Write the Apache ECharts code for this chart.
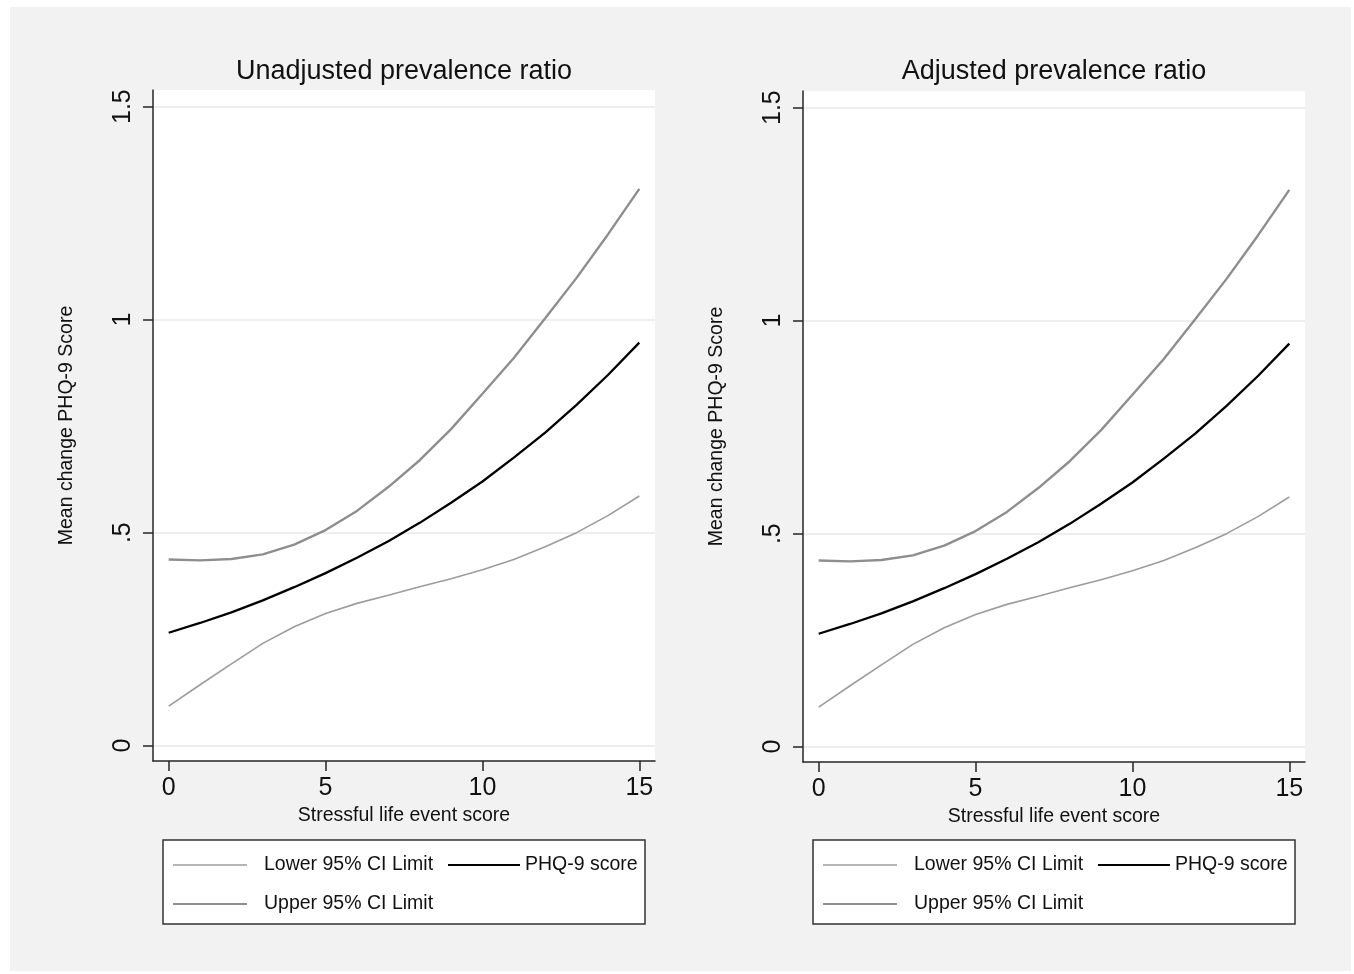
<!DOCTYPE html>
<html>
<head>
<meta charset="utf-8">
<script src="https://cdn.jsdelivr.net/npm/echarts@6/dist/echarts.min.js"></script>
<style>html,body{margin:0;padding:0;background:#fff}#c{width:1354px;height:974px}</style>
</head>
<body>
<div id="c"></div>
<script>
// ---- data ----
const xValues = [0,1,2,3,4,5,6,7,8,9,10,11,12,13,14,15];
const lowerUnadj = [0.093,0.143,0.192,0.240,0.279,0.310,0.334,0.353,0.373,0.392,0.413,0.437,0.467,0.500,0.540,0.586];
const upperUnadj = [0.437,0.435,0.438,0.449,0.472,0.506,0.551,0.607,0.670,0.743,0.826,0.910,1.003,1.098,1.200,1.307];
const phqUnadj   = [0.265,0.288,0.313,0.341,0.372,0.405,0.441,0.480,0.523,0.570,0.620,0.676,0.735,0.800,0.870,0.946];
const lowerAdj = [0.093,0.143,0.192,0.240,0.279,0.310,0.334,0.353,0.373,0.392,0.413,0.437,0.467,0.500,0.540,0.586];
const upperAdj = [0.437,0.435,0.438,0.449,0.472,0.506,0.551,0.607,0.670,0.743,0.826,0.910,1.003,1.098,1.200,1.307];
const phqAdj   = [0.265,0.288,0.313,0.341,0.372,0.405,0.441,0.480,0.523,0.570,0.620,0.676,0.735,0.800,0.870,0.946];
const xTicks = [0,5,10,15];
const yTicks = [0,0.5,1,1.5];
const yTickLabels = ['0','.5','1','1.5'];
const panelTitles = ['Unadjusted prevalence ratio','Adjusted prevalence ratio'];
const xName = 'Stressful life event score';
const yName = 'Mean change PHQ-9 Score';
const seriesNames = ['Lower 95% CI Limit','Upper 95% CI Limit','PHQ-9 score'];

// ---- layout / style ----
const FONT = 'Liberation Sans, Arial, Helvetica, sans-serif';
const panels = [
  {left:153, top:90, lower:lowerUnadj, upper:upperUnadj, phq:phqUnadj, title:panelTitles[0]},
  {left:803, top:91, lower:lowerAdj, upper:upperAdj, phq:phqAdj, title:panelTitles[1]}
];
const GW = 502, GH = 671;
const axisCol = '#262626';
const styles = [
  {color:'#9c9c9c', width:1.6},
  {color:'#8e8e8e', width:2.4},
  {color:'#000000', width:2.3}
];

const toPairs = arr => xValues.map((x,i)=>[x, arr[i]]);

const grids = [], xAxes = [], yAxes = [], series = [], titles = [], legends = [], graphics = [];

graphics.push({type:'rect', z:-10, shape:{x:10,y:7,width:1341,height:964}, style:{fill:'#f2f2f2'}, silent:true});

panels.forEach((p, gi) => {
  grids.push({left:p.left, top:p.top, width:GW, height:GH, show:true, backgroundColor:'#ffffff', borderWidth:0});
  xAxes.push({
    type:'value', gridIndex:gi, min:-0.5, max:15.5,
    name:xName, nameLocation:'middle', nameGap:44,
    nameTextStyle:{fontFamily:FONT, fontSize:19.5, color:'#111'},
    axisLine:{show:true, onZero:false, lineStyle:{color:axisCol, width:1.5}},
    axisTick:{show:true, length:10, customValues:xTicks, lineStyle:{color:axisCol, width:1.5}},
    axisLabel:{customValues:xTicks, margin:15, fontFamily:FONT, fontSize:25, color:'#111'},
    splitLine:{show:false}
  });
  yAxes.push({
    type:'value', gridIndex:gi, min:-0.036, max:1.539,
    name:yName, nameLocation:'middle', nameGap:76, nameRotate:90,
    nameTextStyle:{fontFamily:FONT, fontSize:19.5, color:'#111'},
    axisLine:{show:true, onZero:false, lineStyle:{color:axisCol, width:1.5}},
    axisTick:{show:true, length:10, customValues:yTicks, lineStyle:{color:axisCol, width:1.5}},
    axisLabel:{customValues:yTicks, rotate:90, margin:17, fontFamily:FONT, fontSize:25, color:'#111',
      formatter: v => { const i = yTicks.indexOf(v); return i >= 0 ? yTickLabels[i] : ''; }},
    splitLine:{show:true, lineStyle:{color:'#e9e9e9', width:1.5}}
  });
  [p.lower, p.upper, p.phq].forEach((arr, si) => {
    series.push({
      type:'line', name:seriesNames[si], xAxisIndex:gi, yAxisIndex:gi,
      data: toPairs(arr), showSymbol:false, symbol:'none', smooth:false,
      lineStyle:{color:styles[si].color, width:styles[si].width}, itemStyle:{color:styles[si].color},
      z: si === 2 ? 3 : 2, animation:false
    });
  });
  titles.push({text:p.title, left:p.left + GW/2 - 5, top:53, textAlign:'center',
    textStyle:{fontFamily:FONT, fontSize:27, fontWeight:'normal', color:'#111'}});

  const bx = p.left + 10;
  graphics.push({type:'rect', z:1, shape:{x:bx, y:840, width:482, height:84},
    style:{fill:'#ffffff', stroke:'#333333', lineWidth:1.5}, silent:true});
  const legendBase = {orient:'horizontal', padding:0, itemGap:0, selectedMode:false,
    icon:'rect', itemWidth:74, z:5,
    textStyle:{fontFamily:FONT, fontSize:19.5, color:'#111', padding:[0,0,0,12]}};
  legends.push(Object.assign({}, legendBase, {left:bx+10, top:855, itemHeight:1.6, data:[seriesNames[0]]}));
  legends.push(Object.assign({}, legendBase, {left:bx+10, top:894, itemHeight:2.2, data:[seriesNames[1]]}));
  legends.push(Object.assign({}, legendBase, {left:bx+285, top:855, itemHeight:2.2, itemWidth:72,
    textStyle:{fontFamily:FONT, fontSize:19.5, color:'#111', padding:[0,0,4,0]}, data:[seriesNames[2]]}));
});

const chart = echarts.init(document.getElementById('c'), null, {renderer:'canvas'});
chart.setOption({
  backgroundColor:'#ffffff',
  animation:false,
  title:titles, grid:grids, xAxis:xAxes, yAxis:yAxes, series:series, legend:legends, graphic:graphics
});
</script>
</body>
</html>
